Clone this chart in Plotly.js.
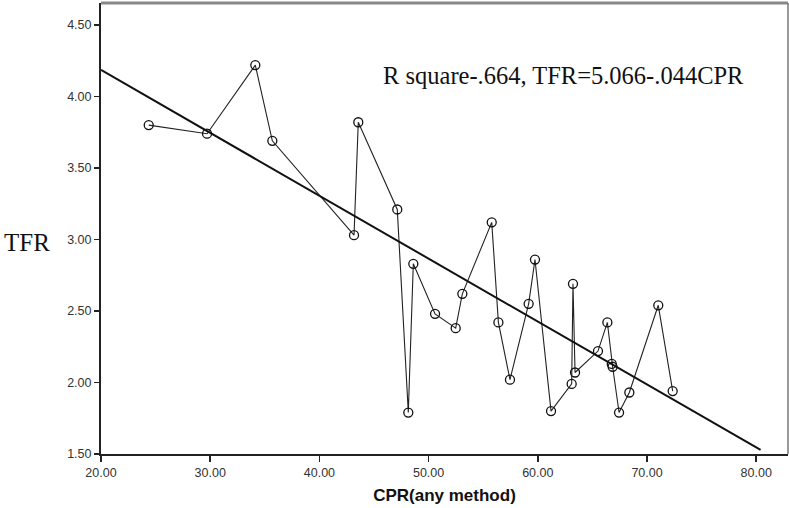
<!DOCTYPE html>
<html>
<head>
<meta charset="utf-8">
<script src="https://cdn.plot.ly/plotly-3.0.1.min.js"></script>
<style>html,body{margin:0;padding:0;background:#fff;}#chart{width:789px;height:508px;}</style>
</head>
<body>
<div id="chart"></div>
<script>
const cpr = [24.37, 29.71, 34.13, 35.69, 43.17, 43.56, 47.13, 48.14, 48.60, 50.59, 52.48, 53.09, 55.78, 56.39, 57.45, 59.16, 59.74, 61.21, 63.10, 63.22, 63.41, 65.51, 66.37, 66.77, 66.85, 67.44, 68.38, 71.03, 72.35];
const tfr = [3.80, 3.74, 4.22, 3.69, 3.03, 3.82, 3.21, 1.79, 2.83, 2.48, 2.38, 2.62, 3.12, 2.42, 2.02, 2.55, 2.86, 1.80, 1.99, 2.69, 2.07, 2.22, 2.42, 2.13, 2.11, 1.79, 1.93, 2.54, 1.94];
const fitIntercept = 5.066;
const fitSlope = -0.044;
const fitX = [20, 80.4];
const fitY = fitX.map(v => fitIntercept + fitSlope * v);
const xTicks = [20, 30, 40, 50, 60, 70, 80];
const xTickText = ["20.00", "30.00", "40.00", "50.00", "60.00", "70.00", "80.00"];
const yTicks = [1.5, 2.0, 2.5, 3.0, 3.5, 4.0, 4.5];
const yTickText = ["1.50", "2.00", "2.50", "3.00", "3.50", "4.00", "4.50"];
const eqText = "R square-.664, TFR=5.066-.044CPR";

const traces = [
  {x: cpr, y: tfr, type: 'scatter', mode: 'lines+markers',
   line: {color: '#222', width: 1.1},
   marker: {symbol: 'circle-open', size: 9, color: '#111', line: {width: 1.3, color: '#111'}},
   showlegend: false, hoverinfo: 'x+y'},
  {x: fitX, y: fitY, type: 'scatter', mode: 'lines',
   line: {color: '#111', width: 2}, showlegend: false}
];

const layout = {
  width: 789, height: 508,
  margin: {l: 101, r: 1, t: 3, b: 54},
  paper_bgcolor: '#fff', plot_bgcolor: '#fff',
  xaxis: {range: [20, 82.91], tickvals: xTicks, ticktext: xTickText,
    ticks: 'outside', ticklen: 6, tickwidth: 1.5, tickcolor: '#222',
    showgrid: false, zeroline: false, showline: true, linecolor: '#222', linewidth: 2,
    tickfont: {family: 'Liberation Sans, Arial, sans-serif', size: 12.5, color: '#333'},
    title: {text: '<b>CPR(any method)</b>', font: {family: 'Liberation Sans, Arial, sans-serif', size: 17, color: '#111'}, standoff: 10}},
  yaxis: {range: [1.5, 4.654], tickvals: yTicks, ticktext: yTickText,
    ticks: 'outside', ticklen: 5, tickwidth: 1.5, tickcolor: '#222',
    showgrid: false, zeroline: false, showline: true, linecolor: '#222', linewidth: 2,
    tickfont: {family: 'Liberation Sans, Arial, sans-serif', size: 12.5, color: '#333'}},
  shapes: [
    {type: 'line', xref: 'paper', yref: 'paper', x0: 0, x1: 1, y0: 1, y1: 1, line: {color: '#888', width: 3}},
    {type: 'line', xref: 'paper', yref: 'paper', x0: 1, x1: 1, y0: 0, y1: 1, line: {color: '#777', width: 1.5}}
  ],
  annotations: [
    {text: eqText, xref: 'paper', yref: 'paper', x: 0.939, y: 0.84, xanchor: 'right', yanchor: 'middle',
     showarrow: false, font: {family: 'Liberation Serif, Times New Roman, serif', size: 24.5, color: '#111'}},
    {text: 'TFR', xref: 'paper', yref: 'paper', x: -0.108, y: 0.47, xanchor: 'center', yanchor: 'middle',
     showarrow: false, font: {family: 'Liberation Serif, Times New Roman, serif', size: 25, color: '#111'}}
  ]
};
Plotly.newPlot('chart', traces, layout, {displayModeBar: false, staticPlot: true});
</script>
</body>
</html>
